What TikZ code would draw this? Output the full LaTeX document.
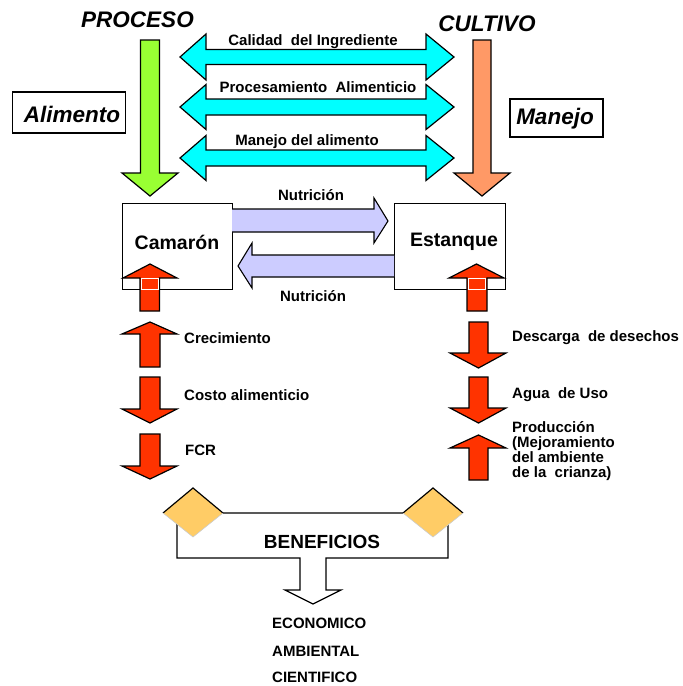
\documentclass[tikz,border=0pt]{standalone}
\usepackage{fontspec}
\setmainfont{Liberation Sans}
\definecolor{lime}{HTML}{99FF33}
\definecolor{salmon}{HTML}{FF9966}
\definecolor{aqua}{HTML}{00FFFF}
\definecolor{lav}{HTML}{CCCCFF}
\definecolor{redo}{HTML}{FF3300}
\definecolor{gold}{HTML}{FFCC66}
\begin{document}
\begin{tikzpicture}[x=1pt,y=-1pt,
  blk/.style={draw=black,line width=1.2pt,line join=miter},
  lbl/.style={font=\bfseries\fontsize{15}{15}\selectfont,inner sep=0pt},
  title/.style={font=\bfseries\itshape\fontsize{22.5}{24}\selectfont,inner sep=0pt},
  bigbox/.style={draw=black,line width=1.3pt,fill=white,minimum width=#1,minimum height=41pt,inner sep=0pt},
  cbox/.style={draw=black,line width=1pt,fill=white,minimum width=110pt,minimum height=86pt,inner sep=0pt}]
\useasboundingbox (0,0) rectangle (683,686);

% titles
\node[title] (proceso) at (137.5,20) {PROCESO};
\node[title] (cultivo) at (487,24) {CULTIVO};

% green and orange down arrows
\draw[blk,fill=lime] (140.5,40) -- (159.5,40) -- (159.5,173) -- (178,173) -- (150,196) -- (122,173) -- (140.5,173) -- cycle;
\draw[blk,fill=salmon] (473,40) -- (491,40) -- (491,173) -- (510,173) -- (482,196) -- (454,173) -- (473,173) -- cycle;

% side boxes
\node[bigbox=113pt] (alim) at (69,112.5) {};
\node[title] at (72,114) {Alimento};
\node[bigbox=93pt,minimum height=38pt] (manejo) at (556.5,118) {};
\node[title] at (555,119) {Manejo};

% cyan double arrows
\foreach \c/\hs/\hh in {57/7.5/23, 107/8/22.5, 158/8/22.5}{
  \draw[blk,fill=aqua] (180,\c) -- (206,\c-\hh) -- (206,\c-\hs) -- (426,\c-\hs) -- (426,\c-\hh) -- (454,\c)
     -- (426,\c+\hh) -- (426,\c+\hs) -- (206,\c+\hs) -- (206,\c+\hh) -- cycle;
}
\node[lbl] (l1) at (313,42) {Calidad\ \ del Ingrediente};
\node[lbl] (l2) at (318,87.5) {Procesamiento\ \ Alimenticio};
\node[lbl] (l3) at (307,142) {Manejo del alimento};

% Camaron / Estanque boxes
\node[cbox] (cam) at (177,246) {};
\node[cbox,minimum width=111pt] (est) at (449.5,246) {};
\node[font=\bfseries\fontsize{19.5}{20}\selectfont,inner sep=0pt] at (177,242) {Camarón};
\node[font=\bfseries\fontsize{19.5}{20}\selectfont,inner sep=0pt] at (454,242) {Estanque};

% Nutricion arrows
\fill[lav] (232,209) -- (374,209) -- (374,198) -- (388,221) -- (374,243) -- (374,232) -- (232,232) -- cycle;
\draw[line width=1.1pt,line join=miter] (232,209) -- (374,209) -- (374,198) -- (388,221) -- (374,243) -- (374,232) -- (232,232);
\fill[lav] (394,255) -- (252,255) -- (252,243) -- (238,266) -- (252,288) -- (252,277) -- (394,277) -- cycle;
\draw[line width=1.1pt,line join=miter] (394,255) -- (252,255) -- (252,243) -- (238,266) -- (252,288) -- (252,277) -- (394,277);
\node[lbl] (n1) at (311,195) {Nutrición};
\node[lbl] (n2) at (313,296) {Nutrición};

% red up arrows in boxes
\draw[blk,fill=redo] (140,311) -- (140,278) -- (123,278) -- (150,264) -- (177,278) -- (159.5,278) -- (159.5,311) -- cycle;
\draw[white,line width=1pt,fill=redo] (141.5,278.5) rectangle (158,289);
\draw[blk,fill=redo] (467,311) -- (467,278) -- (449,278) -- (476.5,264) -- (504,278) -- (487,278) -- (487,311) -- cycle;
\draw[white,line width=1pt,fill=redo] (468.5,278.5) rectangle (485.5,289);

% left column arrows
\draw[blk,fill=redo] (140,367) -- (140,334) -- (122,334) -- (150,322) -- (177,334) -- (160,334) -- (160,367) -- cycle;
\draw[blk,fill=redo] (140,377) -- (160,377) -- (160,409) -- (177,409) -- (150,423) -- (122,409) -- (140,409) -- cycle;
\draw[blk,fill=redo] (140,434) -- (160,434) -- (160,466) -- (177,466) -- (150,479) -- (122,466) -- (140,466) -- cycle;
\node[lbl,anchor=west] (crec) at (184,338) {Crecimiento};
\node[lbl,anchor=west] (costo) at (184,395) {Costo alimenticio};
\node[lbl,anchor=west] (fcr) at (185,450) {FCR};

% right column arrows
\draw[blk,fill=redo] (469,322) -- (488,322) -- (488,353) -- (506,353) -- (478.5,368) -- (450,353) -- (469,353) -- cycle;
\draw[blk,fill=redo] (469,377) -- (488,377) -- (488,408) -- (506,408) -- (478.5,423) -- (450,408) -- (469,408) -- cycle;
\draw[blk,fill=redo] (469,480) -- (469,448) -- (450,448) -- (478.5,435) -- (506,448) -- (488,448) -- (488,480) -- cycle;
\node[lbl,anchor=west] (desc) at (512,338) {Descarga\ \ de desechos};
\node[lbl,anchor=west] (agua) at (512,395) {Agua\ \ de Uso};
\node[lbl,anchor=north west,align=left] (prod) at (512,421) {Producción\\(Mejoramiento\\del ambiente\\de la\ \ crianza)};

% beneficios tray
\draw[line width=1.2pt,fill=white,line join=miter] (177,513) -- (448,513) -- (448,558) -- (326,558) -- (326,590) -- (341,590) -- (313,604) -- (285,590) -- (300,590) -- (300,558) -- (177,558) -- cycle;
\foreach \cx in {193,433}{
  \fill[gold] (\cx-30,513) -- (\cx,488) -- (\cx+30,513) -- (\cx,537) -- cycle;
  \draw[line width=1.2pt,line join=miter] (\cx-30,513) -- (\cx,488) -- (\cx+30,513);
  \draw[line width=0.6pt,gray!40] (\cx-30,513) -- (\cx,537) -- (\cx+30,513);
}
\node[font=\bfseries\fontsize{19}{20}\selectfont,inner sep=0pt] (ben) at (322,542) {BENEFICIOS};
\node[lbl,anchor=west] (eco) at (272,623) {ECONOMICO};
\node[lbl,anchor=west] (amb) at (272,651) {AMBIENTAL};
\node[lbl,anchor=west] (cie) at (272,677) {CIENTIFICO};
\end{tikzpicture}
\end{document}
